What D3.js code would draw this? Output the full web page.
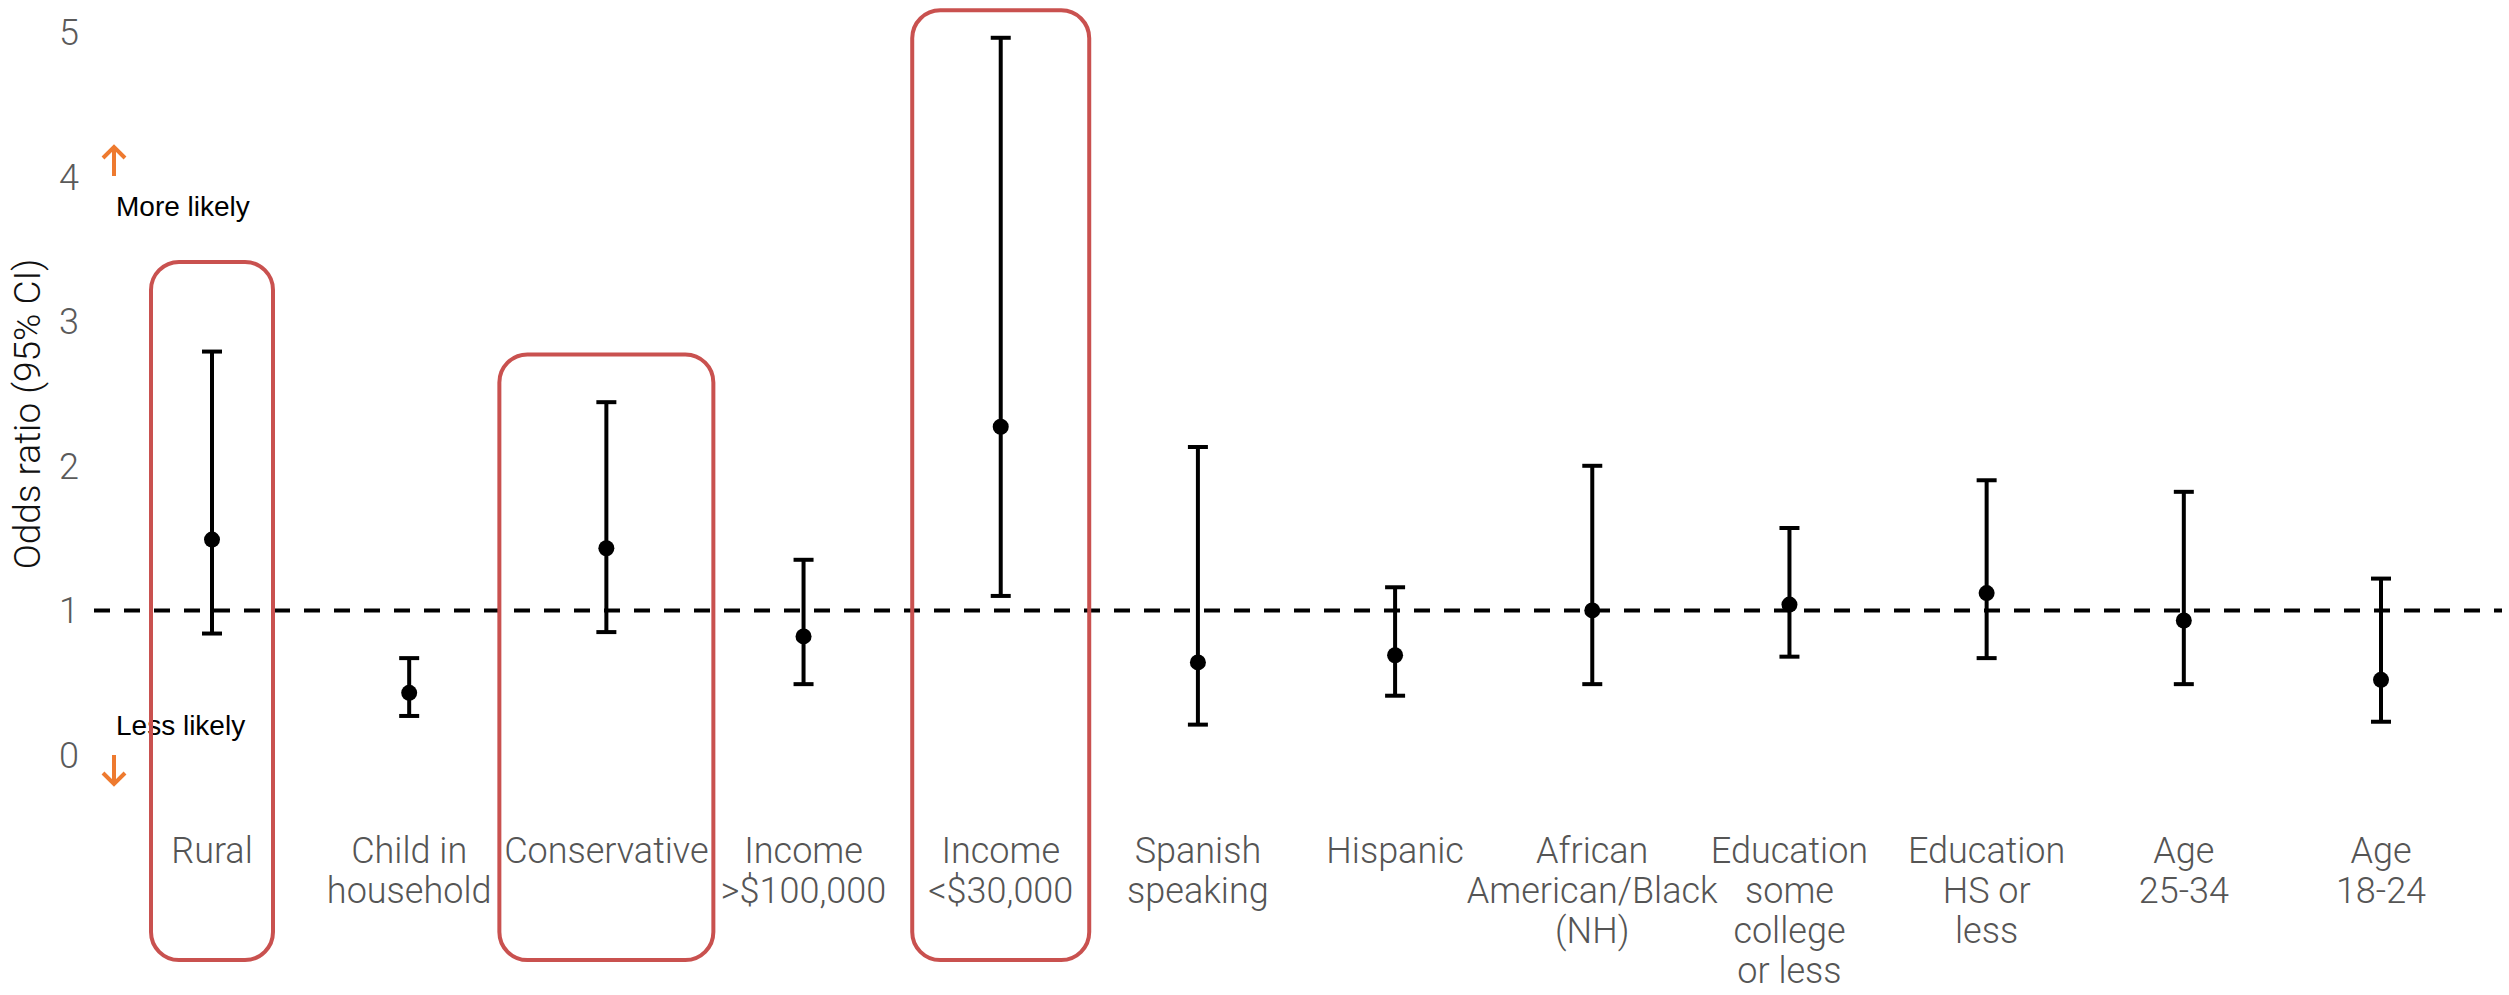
<!DOCTYPE html>
<html>
<head>
<meta charset="utf-8">
<script src="https://cdn.jsdelivr.net/npm/d3@7"></script>
<style>
  html, body { margin: 0; padding: 0; background: #fff; }
  .tickLabel { font-family: Roboto, sans-serif; font-weight: 300; font-size: 36px; fill: #5a5a5a; }
  .catLabel { font-family: Roboto, sans-serif; font-weight: 300; font-size: 36px; fill: #555; }
  .axisTitle { font-family: Roboto, sans-serif; font-weight: 300; font-size: 37px; fill: #111; }
  .note { font-family: "Liberation Sans", Arial, sans-serif; font-size: 28px; fill: #000; }
</style>
</head>
<body>
<div id="chart"></div>
<script>
// chart data
var categories = ['Rural', 'Child in\nhousehold', 'Conservative', 'Income\n>$100,000', 'Income\n<$30,000',
   'Spanish\nspeaking', 'Hispanic', 'African\nAmerican/Black\n(NH)', 'Education\nsome\ncollege\nor less',
   'Education\nHS or\nless', 'Age\n25-34', 'Age\n18-24'];
var oddsRatio = [1.49, 0.43, 1.43, 0.82, 2.27, 0.64, 0.69, 1.00, 1.04, 1.12, 0.93, 0.52];
var lowerCI   = [0.84, 0.27, 0.85, 0.49, 1.10, 0.21, 0.41, 0.49, 0.68, 0.67, 0.49, 0.23];
var upperCI   = [2.79, 0.67, 2.44, 1.35, 4.96, 2.13, 1.16, 2.00, 1.57, 1.90, 1.82, 1.22];
var yTicks = [0, 1, 2, 3, 4, 5];
var referenceLine = 1;

// highlighted categories and the value the box reaches up to
var highlighted = ['Rural', 'Conservative', 'Income\n<$30,000'];
var highlightTop = [3.41, 2.77, 5.15];

var W = 2509, H = 995;
var BOX_WIDTHS = [122, 214, 177]; // width of highlight boxes, px
var BOX_BOTTOM = 960;
var LINE_H = 40; // label line height
var LABEL_Y = 863; // first label baseline
var ORANGE = '#ee7a2f';
var BOX_RED = '#c9514f';

var svg = d3.select('#chart').append('svg')
   .attr('width', W)
   .attr('height', H);

var x = d3.scalePoint()
   .domain(categories)
   .range([212, 2381]);

var y = d3.scaleLinear()
   .domain([0, 5])
   .range([755, 32]);

// y tick labels (no axis line)
svg.append('g').selectAll('text')
   .data(yTicks)
   .enter()
   .append('text')
      .attr('class', 'tickLabel')
      .attr('x', 79)
      .attr('y', function(d){ return y(d); })
      .attr('dy', '0.36em')
      .attr('text-anchor', 'end')
      .text(function(d){ return d; });

// axis title
svg.append('text')
   .attr('class', 'axisTitle')
   .attr('transform', 'translate(40,' + 414 + ') rotate(-90)')
   .attr('text-anchor', 'middle')
   .text('Odds ratio (95% CI)');

// reference line at 1
svg.append('line')
   .attr('x1', 94)
   .attr('x2', 2502)
   .attr('y1', y(referenceLine))
   .attr('y2', y(referenceLine))
   .attr('stroke', '#000')
   .attr('stroke-width', 4)
   .attr('stroke-dasharray', '16,14');

// more / less likely annotations
svg.append('path')
   .attr('d', 'M114,176 L114,147 M103,158 L114,147 L125,158')
   .attr('fill', 'none')
   .attr('stroke', ORANGE)
   .attr('stroke-width', 4);
svg.append('text')
   .attr('class', 'note')
   .attr('x', 116)
   .attr('y', 216)
   .text('More likely');

svg.append('path')
   .attr('d', 'M114,755 L114,784 M103,773 L114,784 L125,773')
   .attr('fill', 'none')
   .attr('stroke', ORANGE)
   .attr('stroke-width', 4);
svg.append('text')
   .attr('class', 'note')
   .attr('x', 116)
   .attr('y', 735)
   .text('Less likely');

// category labels
var labels = svg.append('g').selectAll('text')
   .data(categories)
   .enter()
   .append('text')
      .attr('class', 'catLabel')
      .attr('text-anchor', 'middle')
      .attr('x', function(d){ return x(d); })
      .attr('y', LABEL_Y);

labels.selectAll('tspan')
   .data(function(d){ return d.split('\n').map(function(t){ return {t: t, cx: x(d)}; }); })
   .enter()
   .append('tspan')
      .attr('x', function(d){ return d.cx; })
      .attr('dy', function(d, i){ return i === 0 ? 0 : LINE_H; })
      .text(function(d){ return d.t; });

// highlight boxes
svg.append('g').selectAll('rect')
   .data(highlighted)
   .enter()
   .append('rect')
      .attr('x', function(d, i){ return x(d) - BOX_WIDTHS[i] / 2; })
      .attr('y', function(d, i){ return y(highlightTop[i]); })
      .attr('width', function(d, i){ return BOX_WIDTHS[i]; })
      .attr('height', function(d, i){ return BOX_BOTTOM - y(highlightTop[i]); })
      .attr('rx', 28)
      .attr('ry', 28)
      .attr('fill', 'none')
      .attr('stroke', BOX_RED)
      .attr('stroke-width', 4);

// error bars
var bars = svg.append('g').selectAll('g')
   .data(categories)
   .enter()
   .append('g')
      .attr('transform', function(d){ return 'translate(' + x(d) + ',0)'; });

bars.append('line')
   .attr('y1', function(d, i){ return y(lowerCI[i]); })
   .attr('y2', function(d, i){ return y(upperCI[i]); })
   .attr('stroke', '#000')
   .attr('stroke-width', 4);

bars.append('line')
   .attr('x1', -10).attr('x2', 10)
   .attr('y1', function(d, i){ return y(upperCI[i]); })
   .attr('y2', function(d, i){ return y(upperCI[i]); })
   .attr('stroke', '#000')
   .attr('stroke-width', 4);

bars.append('line')
   .attr('x1', -10).attr('x2', 10)
   .attr('y1', function(d, i){ return y(lowerCI[i]); })
   .attr('y2', function(d, i){ return y(lowerCI[i]); })
   .attr('stroke', '#000')
   .attr('stroke-width', 4);

bars.append('circle')
   .attr('cy', function(d, i){ return y(oddsRatio[i]); })
   .attr('r', 8)
   .attr('fill', '#000');
</script>
</body>
</html>
